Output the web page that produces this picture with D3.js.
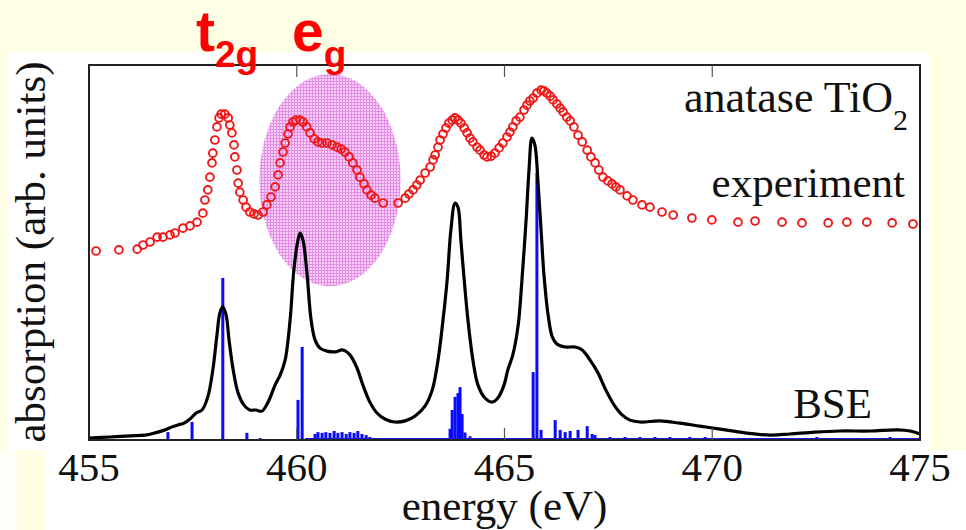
<!DOCTYPE html>
<html>
<head>
<meta charset="utf-8">
<script src="https://cdn.jsdelivr.net/npm/d3@7"></script>
<style>
  html, body { margin: 0; padding: 0; background: #ffffe6; }
  svg { display: block; }
</style>
</head>
<body>
<svg id="chart" width="966" height="530"></svg>
<script>
// ---- data ----
const xTicks = [455, 460, 465, 470, 475];

const expEnergy = [455.17,455.72,456.16,456.30,456.47,456.64,456.78,456.95,457.07,457.26,457.43,457.60,457.74,457.79,457.86,457.91,457.96,457.98,458.03,458.08,458.13,458.18,458.27,458.35,458.39,458.44,458.49,458.51,458.56,458.59,458.63,458.71,458.78,458.87,458.97,459.07,459.19,459.28,459.38,459.48,459.55,459.60,459.67,459.72,459.79,459.84,459.91,459.98,460.08,460.15,460.24,460.32,460.42,460.51,460.61,460.73,460.85,460.97,461.07,461.16,461.26,461.35,461.45,461.52,461.62,461.69,461.79,461.88,462.08,462.44,462.61,462.70,462.80,462.89,462.97,463.09,463.21,463.28,463.33,463.40,463.45,463.52,463.59,463.66,463.74,463.81,463.88,463.95,464.03,464.10,464.17,464.24,464.34,464.41,464.51,464.58,464.68,464.77,464.87,464.96,465.06,465.13,465.20,465.28,465.37,465.47,465.54,465.61,465.69,465.78,465.88,465.95,466.02,466.10,466.17,466.26,466.34,466.41,466.50,466.58,466.67,466.77,466.87,466.99,467.08,467.18,467.27,467.37,467.49,467.59,467.68,467.78,467.95,468.09,468.31,468.50,468.79,469.06,469.51,469.99,470.62,471.03,471.68,472.16,472.79,473.24,473.72,474.33,474.83];
const expAbs = [50.4,50.7,50.9,52.0,52.8,54.1,54.1,54.7,55.2,56.5,57.1,58.1,60.5,64.0,66.7,70.1,73.9,76.5,80.0,83.5,85.9,86.9,86.9,85.9,84.0,81.9,78.7,75.5,72.0,68.5,66.1,64.0,62.1,60.8,60.3,60.0,60.8,62.7,64.8,67.5,70.7,73.9,76.8,79.2,81.6,83.5,84.8,85.3,85.3,84.8,83.5,81.9,80.3,79.5,79.2,79.2,78.7,78.1,77.6,76.8,75.5,73.9,72.0,70.1,68.3,66.7,65.3,64.5,63.2,63.2,64.5,65.6,66.7,68.0,69.3,71.2,72.8,74.7,76.0,78.1,80.0,81.6,83.2,84.5,85.3,85.9,85.3,84.5,83.2,81.9,80.5,79.5,78.1,77.3,76.0,75.5,75.7,76.5,77.9,79.2,80.8,82.1,83.5,85.1,86.1,88.0,89.3,90.4,91.2,92.5,93.3,93.1,92.5,91.7,90.7,89.6,88.5,87.5,86.1,85.1,83.5,81.3,79.5,77.3,75.5,73.9,72.0,70.1,69.1,68.3,67.5,66.7,65.1,64.0,62.7,62.1,60.8,60.0,59.2,58.7,58.1,58.4,58.1,57.9,57.9,58.1,58.1,57.9,57.6];

const bseEnergy = [455.00,455.51,456.00,456.35,456.59,456.83,457.00,457.14,457.29,457.43,457.58,457.72,457.86,457.98,458.08,458.15,458.22,458.30,458.37,458.47,458.59,458.73,458.87,459.02,459.16,459.31,459.48,459.60,459.72,459.84,459.93,460.03,460.08,460.15,460.25,460.34,460.44,460.56,460.73,460.92,461.11,461.28,461.45,461.59,461.76,461.93,462.12,462.36,462.61,462.85,463.09,463.26,463.40,463.52,463.62,463.71,463.81,463.88,463.95,464.03,464.12,464.24,464.36,464.53,464.70,464.84,464.99,465.08,465.20,465.33,465.42,465.52,465.59,465.66,465.73,465.81,465.88,465.95,466.05,466.15,466.26,466.46,466.70,466.87,467.06,467.25,467.44,467.64,467.83,468.02,468.26,468.74,469.22,469.70,470.19,470.79,471.39,471.87,472.47,473.07,473.80,474.45,474.76,475.00];
const bseAbs = [0.5,0.8,1.1,1.3,1.9,2.7,3.5,4.0,4.5,5.6,7.2,8.0,11.5,18.7,28.0,33.9,35.5,33.3,26.7,18.7,12.5,9.3,8.0,8.0,7.7,10.1,14.7,17.3,21.3,32.0,45.3,53.3,55.2,53.3,44.0,32.5,26.7,24.5,23.7,23.5,24.0,22.7,19.2,14.7,10.1,7.2,5.6,4.8,5.1,6.4,9.1,13.3,21.3,32.0,42.7,56.0,63.2,62.1,53.3,42.7,32.0,21.3,14.7,11.2,10.1,11.2,14.7,18.7,22.7,30.7,42.7,58.7,72.0,80.5,78.7,68.0,56.0,44.0,33.3,27.5,25.6,24.8,24.8,24.0,21.3,17.9,13.3,9.3,6.7,5.3,4.8,5.1,4.5,3.7,2.9,1.9,1.3,1.6,2.1,2.4,2.4,2.7,2.4,1.6];

const stickEnergy = [456.90,457.48,458.22,458.80,459.12,460.03,460.13,460.44,460.51,460.61,460.70,460.80,460.90,460.99,461.09,461.19,461.28,461.38,461.47,461.57,461.67,461.76,462.41,463.69,463.74,463.81,463.88,463.93,463.98,464.05,464.17,465.69,465.78,465.88,466.22,466.34,466.46,466.58,466.77,466.99,467.11,467.18,467.54,467.90,468.26,468.62,468.98,469.46,469.83,472.52,474.28];
const stickAbs = [2.1,4.8,43.2,1.9,0.5,10.7,24.8,1.6,2.1,1.9,2.1,1.9,2.4,1.9,2.1,1.6,2.1,1.9,2.4,1.6,1.3,0.8,0.5,3.0,8.0,11.5,12.5,14.1,6.9,2.0,1.0,18.1,71.2,2.7,5.3,2.7,2.1,2.4,2.7,3.7,1.6,1.3,0.8,0.8,0.8,0.8,0.8,0.8,0.8,0.8,0.8];

// ---- layout ----
const svg = d3.select("#chart");
const L = 89, R = 920, T = 65, B = 440;
const x = d3.scaleLinear().domain([455, 475]).range([L, R]);
const y = d3.scaleLinear().domain([0, 100]).range([B, T]);

// white panels
svg.append("rect").attr("x", 8).attr("y", 52).attr("width", 922).attr("height", 398).attr("fill", "#ffffff");
svg.append("rect").attr("x", 45).attr("y", 450).attr("width", 921).attr("height", 80).attr("fill", "#ffffff");
svg.append("rect").attr("x", 0).attr("y", 450).attr("width", 17).attr("height", 80).attr("fill", "#fffffa");

// pattern for the highlight ellipse
const defs = svg.append("defs");
const pat = defs.append("pattern").attr("id", "dots").attr("width", 3).attr("height", 3)
  .attr("patternUnits", "userSpaceOnUse");
pat.append("rect").attr("width", 3).attr("height", 3).attr("fill", "#f6d2f6");
pat.append("rect").attr("width", 3).attr("height", 1).attr("fill", "#e48ce8");
pat.append("rect").attr("width", 1).attr("height", 3).attr("fill", "#e48ce8");
defs.append("clipPath").attr("id", "clip").append("rect")
  .attr("x", L).attr("y", T).attr("width", R - L).attr("height", B - T);

// highlight ellipse (e_g region)
svg.append("ellipse")
  .attr("cx", x(460.8)).attr("cy", y(69.3))
  .attr("rx", x(460.8) - x(459.1)).attr("ry", y(41) - y(69.3))
  .attr("fill", "url(#dots)");

const g = svg.append("g").attr("clip-path", "url(#clip)");

// stick spectrum
g.selectAll("rect.stick").data(stickEnergy).join("rect")
  .attr("class", "stick")
  .attr("x", d => x(d) - 1.5)
  .attr("width", 3)
  .attr("y", (d, i) => y(stickAbs[i]))
  .attr("height", (d, i) => y(0) - y(stickAbs[i]))
  .attr("fill", "#0a0aff");
g.append("line").attr("x1", x(460.2)).attr("x2", x(475)).attr("y1", B - 1).attr("y2", B - 1)
  .attr("stroke", "#1a1ae0").attr("stroke-width", 2);

// BSE curve
const bse = bseEnergy.map((e, i) => [e, bseAbs[i]]);
g.append("path").datum(bse)
  .attr("d", d3.line().x(d => x(d[0])).y(d => y(d[1])).curve(d3.curveCatmullRom.alpha(0.5)))
  .attr("fill", "none").attr("stroke", "#000").attr("stroke-width", 3.2)
  .attr("stroke-linejoin", "round");

// experiment circles
const exp = expEnergy.map((e, i) => [e, expAbs[i]]);
g.selectAll("circle.exp").data(exp).join("circle")
  .attr("class", "exp")
  .attr("cx", d => x(d[0])).attr("cy", d => y(d[1])).attr("r", 3.9)
  .attr("fill", "none").attr("stroke", "#f01818").attr("stroke-width", 1.9);

// frame
svg.append("rect").attr("x", L).attr("y", T).attr("width", R - L).attr("height", B - T)
  .attr("fill", "none").attr("stroke", "#222").attr("stroke-width", 2);

// ticks (inward, bottom and top)
const inner = xTicks.slice(1, -1);
svg.selectAll("line.tb").data(inner).join("line").attr("class", "tb")
  .attr("x1", d => x(d)).attr("x2", d => x(d)).attr("y1", B).attr("y2", B - 12)
  .attr("stroke", "#555").attr("stroke-width", 1.2);
svg.selectAll("line.tt").data(inner).join("line").attr("class", "tt")
  .attr("x1", d => x(d)).attr("x2", d => x(d)).attr("y1", T).attr("y2", T + 12)
  .attr("stroke", "#555").attr("stroke-width", 1.2);

// tick labels
const serif = "'Liberation Serif', 'Times New Roman', serif";
svg.selectAll("text.tl").data(xTicks).join("text").attr("class", "tl")
  .attr("x", d => x(d)).attr("y", 481)
  .attr("text-anchor", "middle").attr("font-family", serif).attr("font-size", 41)
  .attr("fill", "#111").text(d => d);

// axis titles
svg.append("text").attr("x", x(465)).attr("y", 520).attr("text-anchor", "middle")
  .attr("font-family", serif).attr("font-size", 43).attr("fill", "#111").text("energy (eV)");
svg.append("text").attr("transform", "translate(45,252) rotate(-90)").attr("text-anchor", "middle")
  .attr("font-family", serif).attr("font-size", 43).attr("fill", "#111").text("absorption (arb. units)");

// annotations
const ann = svg.append("text").attr("x", 908).attr("y", 112).attr("text-anchor", "end")
  .attr("font-family", serif).attr("font-size", 44).attr("fill", "#111");
ann.append("tspan").text("anatase TiO");
ann.append("tspan").attr("font-size", 30).attr("dy", 18).text("2");

svg.append("text").attr("x", 905).attr("y", 197).attr("text-anchor", "end")
  .attr("font-family", serif).attr("font-size", 43).attr("fill", "#111").text("experiment");
svg.append("text").attr("x", 872).attr("y", 418).attr("text-anchor", "end")
  .attr("font-family", serif).attr("font-size", 43).attr("fill", "#111").text("BSE");

// t2g / eg labels
const sans = "'Liberation Sans', Arial, sans-serif";
const t2g = svg.append("text").attr("x", 196).attr("y", 51)
  .attr("font-family", sans).attr("font-weight", "bold").attr("font-size", 57).attr("fill", "#ff0000");
t2g.append("tspan").text("t");
t2g.append("tspan").attr("font-size", 37).attr("dy", 16).text("2g");
const eg = svg.append("text").attr("x", 292).attr("y", 51)
  .attr("font-family", sans).attr("font-weight", "bold").attr("font-size", 57).attr("fill", "#ff0000");
eg.append("tspan").text("e");
eg.append("tspan").attr("font-size", 37).attr("dy", 16).text("g");
</script>
</body>
</html>
